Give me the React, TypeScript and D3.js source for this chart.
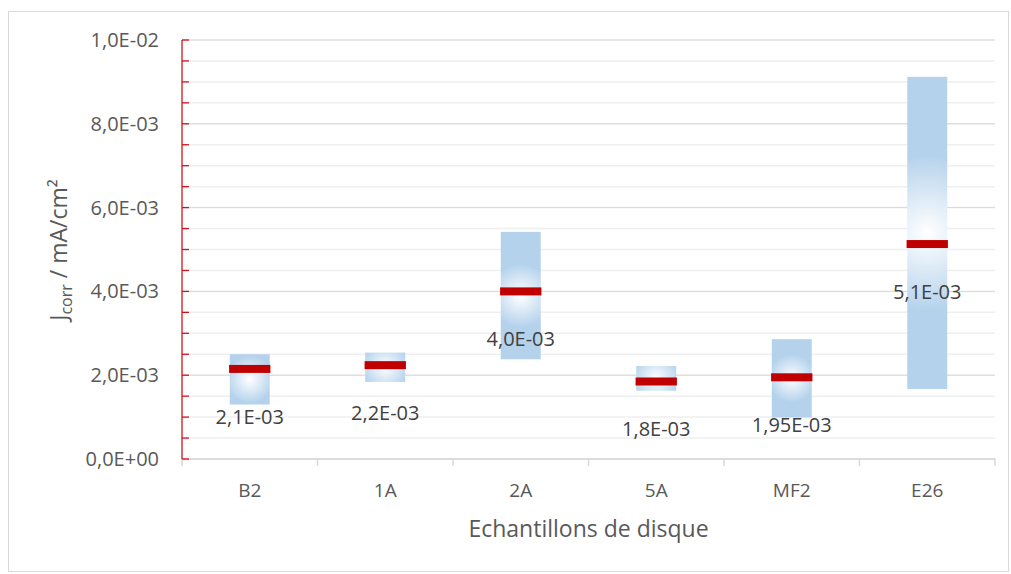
import * as d3 from 'd3';

// Echantillons de disque
const categories = ['B2', '1A', '2A', '5A', 'MF2', 'E26'];
const meanValues = [0.00215, 0.00224, 0.0040, 0.00185, 0.00195, 0.00513];
const lowValues = [0.0013, 0.00184, 0.00238, 0.00163, 0.00099, 0.00167];
const highValues = [0.0025, 0.00254, 0.00542, 0.00222, 0.00286, 0.00912];
const valueLabels = ['2,1E-03', '2,2E-03', '4,0E-03', '1,8E-03', '1,95E-03', '5,1E-03'];
const majorTicks = [0, 0.002, 0.004, 0.006, 0.008, 0.01];
const minorTicks = d3.range(0, 0.01001, 0.0005);

const W = 1011;
const H = 574;
const margin = { top: 40, right: 16, bottom: 115, left: 182 };
const FONT = '"Open Sans", "Liberation Sans", sans-serif';

// Excel-like scientific format: 1,0E-02
const sci = (v: number) => {
    if (v === 0) return '0,0E+00';
    const e = Math.floor(Math.log10(v) + 1e-9);
    const m = v / Math.pow(10, e);
    const sign = e < 0 ? '-' : '+';
    return `${m.toFixed(1).replace('.', ',')}E${sign}${String(Math.abs(e)).padStart(2, '0')}`;
};

export default function App() {
    const x = d3.scaleBand()
        .domain(categories)
        .range([margin.left, W - margin.right]);

    const y = d3.scaleLinear()
        .domain([0, 0.01])
        .range([H - margin.bottom, margin.top]);

    const boxW = x.bandwidth() * 0.295;
    const meanW = x.bandwidth() * 0.305;
    const y0 = y(0);

    return (
        <svg width={W} height={H} style={{ position: 'absolute', left: 0, top: 0, background: '#fff' }}>
            <defs>
                {categories.map((c, i) => {
                    const top = y(highValues[i]);
                    const bot = y(lowValues[i]);
                    const cx = (x(c) || 0) + x.bandwidth() / 2;
                    const r = Math.max(boxW * 0.6, (bot - top) * 0.25);
                    return (
                        <radialGradient key={c} id={`grad-${i}`} gradientUnits="userSpaceOnUse"
                            cx={cx} cy={(top + bot) / 2} r={r}>
                            <stop offset="0%" stopColor="#ffffff" />
                            <stop offset="100%" stopColor="#b4d2ec" />
                        </radialGradient>
                    );
                })}
            </defs>

            {/* chart frame */}
            <rect x={8.5} y={11.5} width={1000} height={560} fill="#fff" stroke="#d9d9d9" />

            {/* grid lines */}
            {minorTicks.map((t, i) => (
                <line key={`mg${i}`} x1={margin.left} x2={W - margin.right} y1={y(t)} y2={y(t)}
                    stroke="#efefef" strokeWidth={1.5} />
            ))}
            {majorTicks.map((t) => (
                <line key={`Mg${t}`} x1={margin.left} x2={W - margin.right} y1={y(t)} y2={y(t)}
                    stroke="#d9d9d9" strokeWidth={1} />
            ))}

            {/* x axis */}
            <line x1={margin.left} x2={W - margin.right} y1={y0} y2={y0} stroke="#d9d9d9" strokeWidth={1.5} />
            {categories.concat(['end']).map((c, i) => {
                const xx = margin.left + i * x.step();
                return <line key={`xt${i}`} x1={xx} x2={xx} y1={y0} y2={y0 + 7} stroke="#d9d9d9" strokeWidth={1.5} />;
            })}
            {categories.map((c) => (
                <text key={`xl${c}`} x={(x(c) || 0) + x.bandwidth() / 2} y={497} textAnchor="middle"
                    fontFamily={FONT} fontSize={19} fill="#595959">{c}</text>
            ))}

            {/* y axis */}
            <line x1={margin.left} x2={margin.left} y1={y(0.01)} y2={y0} stroke="#d0141c" strokeWidth={1.3} />
            {minorTicks.map((t, i) => (
                <line key={`yt${i}`} x1={margin.left} x2={margin.left + 7} y1={y(t)} y2={y(t)}
                    stroke="#d0141c" strokeWidth={1.3} />
            ))}
            {majorTicks.map((t) => (
                <text key={`yl${t}`} x={159} y={y(t)} dy="0.35em" textAnchor="end"
                    fontFamily={FONT} fontSize={20} fill="#595959">{sci(t)}</text>
            ))}

            {/* range boxes */}
            {categories.map((c, i) => {
                const cx = (x(c) || 0) + x.bandwidth() / 2;
                return (
                    <rect key={`box${c}`} x={cx - boxW / 2} y={y(highValues[i])} width={boxW}
                        height={y(lowValues[i]) - y(highValues[i])} fill={`url(#grad-${i})`} />
                );
            })}

            {/* mean markers */}
            {categories.map((c, i) => {
                const cx = (x(c) || 0) + x.bandwidth() / 2;
                return (
                    <rect key={`mean${c}`} x={cx - meanW / 2} y={y(meanValues[i]) - 4} width={meanW}
                        height={8} fill="#c00000" />
                );
            })}

            {/* value labels */}
            {categories.map((c, i) => {
                const cx = (x(c) || 0) + x.bandwidth() / 2;
                return (
                    <text key={`vl${c}`} x={cx} y={y(meanValues[i]) + 48} dy="0.35em" textAnchor="middle"
                        fontFamily={FONT} fontSize={20} fill="#404040">{valueLabels[i]}</text>
                );
            })}

            {/* axis titles */}
            <text transform={`translate(67,${250}) rotate(-90)`} textAnchor="middle"
                fontFamily={FONT} fontSize={23} fill="#595959">
                J<tspan fontSize={16} dy={5}>corr</tspan><tspan dy={-5}> / mA/cm²</tspan>
            </text>
            <text x={(margin.left + W - margin.right) / 2} y={537} textAnchor="middle"
                fontFamily={FONT} fontSize={23} fill="#595959">Echantillons de disque</text>
        </svg>
    );
}
